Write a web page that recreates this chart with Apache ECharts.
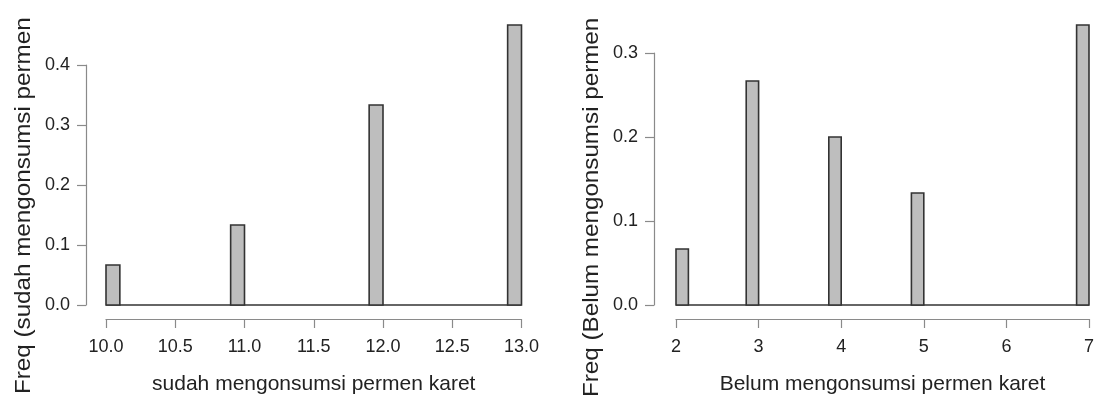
<!DOCTYPE html>
<html>
<head>
<meta charset="utf-8">
<script src="https://cdn.jsdelivr.net/npm/echarts@6/dist/echarts.min.js"></script>
<style>
html,body{margin:0;padding:0;background:#fff;}
#c{width:1097px;height:403px;}
</style>
</head>
<body>
<div id="c"></div>
<script>
// ---- data ----
const leftValues = [10, 11, 12, 13];
const leftFreq = [0.0667, 0.1333, 0.3333, 0.4667];
const leftBinWidth = 0.1;
const leftXTicks = [10.0, 10.5, 11.0, 11.5, 12.0, 12.5, 13.0];
const leftYTicks = [0.0, 0.1, 0.2, 0.3, 0.4];
const leftXTitle = 'sudah mengonsumsi permen karet';
const leftYTitle = 'Freq (sudah mengonsumsi permen';

const rightValues = [2, 3, 4, 5, 7];
const rightFreq = [0.0667, 0.2667, 0.2, 0.1333, 0.3333];
const rightBinWidth = 0.15;
const rightXTicks = [2, 3, 4, 5, 6, 7];
const rightYTicks = [0.0, 0.1, 0.2, 0.3];
const rightXTitle = 'Belum mengonsumsi permen karet';
const rightYTitle = 'Freq (Belum mengonsumsi permen';

// ---- rendering ----
const FONT = '"Liberation Sans", Arial, Helvetica, sans-serif';
const chart = echarts.init(document.getElementById('c'), null, {renderer: 'canvas'});

function histSeries(idx, values, freqs, w, xMin, xMax) {
  const data = values.map((v, i) => [v, freqs[i]]);
  return [{
    type: 'custom',
    xAxisIndex: idx, yAxisIndex: idx,
    clip: false,
    silent: true,
    data: [[xMin, xMax]],
    renderItem: function (params, api) {
      const a = api.coord([api.value(0), 0]);
      const b = api.coord([api.value(1), 0]);
      return {type: 'line', shape: {x1: a[0], y1: a[1], x2: b[0], y2: b[1]},
        style: {stroke: '#333', lineWidth: 1.6}};
    }
  }, {
    type: 'custom',
    xAxisIndex: idx, yAxisIndex: idx,
    clip: false,
    silent: true,
    data: data,
    renderItem: function (params, api) {
      const x = api.value(0), y = api.value(1);
      const x0 = (x === xMin) ? x : x - w;
      const x1 = (x === xMin) ? x + w : x;
      const p0 = api.coord([x0, y]);
      const p1 = api.coord([x1, 0]);
      return {type: 'rect',
        shape: {x: p0[0], y: p0[1], width: p1[0] - p0[0], height: p1[1] - p0[1]},
        style: {fill: '#bebebe', stroke: '#333', lineWidth: 1.6}};
    }
  }];
}

const axisLineStyle = {color: '#8a8a8a', width: 1.2};
const labelStyle = {color: '#222', fontSize: 18, fontFamily: FONT};

function xAxis(idx, ticks, title, decimals) {
  return {
    type: 'value', gridIndex: idx,
    min: ticks[0], max: ticks[ticks.length - 1],
    interval: ticks[1] - ticks[0],
    offset: 14,
    axisLine: {show: true, onZero: false, lineStyle: axisLineStyle},
    axisTick: {show: true, length: 9, lineStyle: axisLineStyle},
    splitLine: {show: false},
    axisLabel: Object.assign({margin: 19, formatter: v => v.toFixed(decimals)}, labelStyle),
    name: title, nameLocation: 'middle', nameGap: 55,
    nameTextStyle: {color: '#222', fontSize: 21, fontFamily: FONT}
  };
}
function yAxis(idx, ticks, offset) {
  return {
    type: 'value', gridIndex: idx,
    min: ticks[0], max: ticks[ticks.length - 1],
    interval: 0.1,
    offset: offset,
    axisLine: {show: true, onZero: false, lineStyle: axisLineStyle},
    axisTick: {show: true, length: 9, lineStyle: axisLineStyle},
    splitLine: {show: false},
    axisLabel: Object.assign({margin: 16, formatter: v => v.toFixed(1)}, labelStyle)
  };
}

function yTitle(text, x, y) {
  return {
    type: 'text', x: x, y: y, rotation: Math.PI / 2, scaleX: 1.1,
    style: {text: text, fill: '#222', fontSize: 22, fontFamily: FONT,
      align: 'left', verticalAlign: 'middle'}
  };
}

chart.setOption({
  animation: false,
  backgroundColor: '#fff',
  grid: [
    {left: 106, right: 575.5, top: 65, bottom: 98},
    {left: 676, right: 7, top: 53, bottom: 98}
  ],
  xAxis: [
    xAxis(0, leftXTicks, leftXTitle, 1),
    xAxis(1, rightXTicks, rightXTitle, 0)
  ],
  yAxis: [
    yAxis(0, leftYTicks, 20),
    yAxis(1, rightYTicks, 22)
  ],
  series: [].concat(
    histSeries(0, leftValues, leftFreq, leftBinWidth, leftXTicks[0], leftXTicks[leftXTicks.length - 1]),
    histSeries(1, rightValues, rightFreq, rightBinWidth, rightXTicks[0], rightXTicks[rightXTicks.length - 1])
  ),
  graphic: [
    yTitle(leftYTitle, 24, 394),
    yTitle(rightYTitle, 592, 397)
  ]
});
</script>
</body>
</html>
